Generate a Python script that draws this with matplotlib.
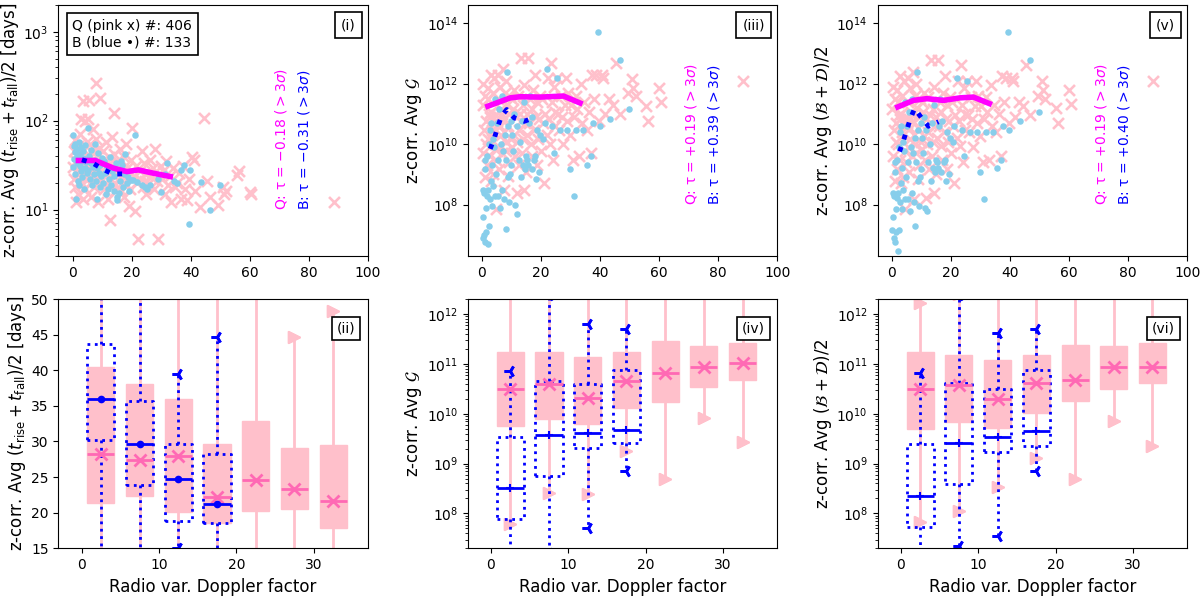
import numpy as np
import matplotlib
matplotlib.use("Agg")
import matplotlib.pyplot as plt
from matplotlib.ticker import NullLocator

# --- Q (pink x) sources: Doppler factor and the three z-corrected averages ---
q_dop = [0.2, 0.4, 0.5, 0.8, 1.0, 1.1, 1.3, 1.5, 1.7, 1.9, 2.0, 2.2, 2.4, 2.6, 2.7, 2.9, 3.1, 3.2, 3.4, 3.6,
         3.7, 3.9, 4.1, 4.3, 4.4, 4.6, 4.8, 4.9,
         5.1, 5.3, 5.5, 5.6, 5.8, 6.0, 6.2, 6.3, 6.5, 6.7, 6.9, 7.1, 7.3, 7.4, 7.6, 7.8, 8.0, 8.2, 8.3, 8.5,
         8.7, 8.9, 9.1, 9.3, 9.6, 9.8,
         10.1, 10.3, 10.6, 10.8, 11.0, 11.3, 11.5, 11.7, 12.0, 12.2, 12.4, 12.6, 12.8, 13.1, 13.3, 13.5, 13.8,
         14.0, 14.2, 14.4, 14.6, 14.9,
         15.1, 15.4, 15.6, 15.9, 16.2, 16.5, 16.8, 17.0, 17.3, 17.6, 17.9, 18.2, 18.5, 18.8, 19.1, 19.4, 19.6, 19.9,
         20.3, 20.7, 21.1, 21.5, 21.9, 22.3, 22.7, 23.0, 23.4, 23.8, 24.1, 24.4, 24.7, 24.9,
         25.3, 25.8, 26.2, 26.7, 27.1, 27.6, 28.0, 28.5, 28.9, 29.3, 29.8,
         30.2, 30.8, 31.3, 31.8, 32.3, 32.9, 33.4, 34.0, 34.6,
         35.4, 36.1, 36.8, 37.4, 38.0, 38.7, 39.5,
         40.5, 41.0, 41.6, 43.0, 44.4, 45.5, 46.6, 49.4,
         50.8, 51.3, 52.0, 55.6, 56.2, 60.0, 60.5, 88.4]
q_tau = [30, 45, 22, 60, 18, 35, 12, 26, 52, 40, 15, 28, 70, 21, 33, 105, 24, 19, 165, 48,
         13, 38, 27, 100, 17, 31, 58, 23,
         104, 25, 171, 38, 20, 55, 29, 14, 44, 32, 23, 80, 27, 18, 36, 62, 267, 22, 41, 30,
         12, 49, 26, 178, 34, 21,
         28, 45, 17, 36, 24, 58, 20, 31, 13, 39, 26, 7.6, 33, 22, 65, 19, 29,
         122, 42, 16, 27, 35,
         25, 18, 33, 21, 48, 16, 28, 20, 39, 14, 23, 55, 19, 30, 11, 26, 17, 36,
         83, 24, 9.5, 31, 20, 4.6, 27, 22, 45, 18, 33, 25, 21, 15,
         26, 20, 36, 23, 29, 17, 48, 21, 4.6, 25, 31,
         22, 27, 15, 35, 19, 24, 12, 29, 18,
         20, 26, 13, 31, 17, 12.8, 22,
         39, 36, 16, 10.8, 107, 21, 14, 11.2,
         18, 15, 16, 24.5, 27, 15.9, 15, 12.2]
q_g = [2e11, 5e9, 1e12, 3e10, 8e8, 4e11, 1e10, 6e10, 2e9, 7e11, 3e11, 1.5e10, 1e11, 8e10, 4e9, 2e12, 6e8, 1.2e11,
       3e10, 5e11, 1e9, 2.5e10, 1.5e12, 7e9, 5e10, 7e7, 9e10, 3e9,
       6e10, 2e12, 9e9, 3e11, 1.5e9, 8e11, 4e10, 2e10, 1.5e11, 5e9, 1e11, 3e12, 7e10, 3e8, 2.5e10, 5e11,
       1.2e10, 1.2e12, 6e9, 2e11, 9e8, 4e10, 1e11, 2.5e9, 3.5e11, 1.5e10,
       3e11, 8e9, 1.5e11, 2e10, 6e11, 4e9, 8e10, 2.5e8, 1.2e10, 4e11, 3e10, 2e9, 1e11, 6e10, 7e12, 5e9, 2e11,
       1.5e10, 9e11, 3e8, 5e10, 1.2e9,
       1e11, 2e10, 7e12, 5e10, 3e11, 1e10, 1.5e11, 4e9, 6e11, 3e10, 2e12, 8e10, 2e9, 2.5e11, 1.5e10, 7e10, 4e11, 6e9,
       3e11, 5e10, 5e8, 1e11, 2e10, 1.5e12, 7e10, 1e10, 5e12, 2.5e11, 3e9, 8e11, 1.2e11, 4e10,
       1.5e12, 1e11, 3e10, 4e11, 8e10, 1e10, 2e11, 1.5e12, 6e10, 5e11, 2e10,
       2e11, 3e9, 8e10, 4e11, 1.5e11, 4e9, 1e12, 5e10, 2.5e11,
       3e10, 1.2e11, 5e9, 2e12, 3e11, 2e12, 6e10,
       2e12, 1.5e12, 1e11, 3e11, 2e11, 5e12, 1e11, 5e11,
       1.4e12, 7e11, 4e11, 1.8e11, 6e10, 7e11, 2.5e11, 1.2e12]
q_bd = [1.5e11, 4e9, 8e11, 3e10, 6e8, 3e11, 1.2e10, 5e10, 1.5e9, 6e11, 2.5e11, 1e10, 9e10, 7e10, 3e9, 1.8e12, 5e8,
        1e11, 2.5e10, 4e11, 8e8, 2e10, 1.2e12, 6e9, 4e10, 7e7, 8e10, 2.5e9,
        5e10, 1.6e12, 8e9, 2.5e11, 1.2e9, 7e11, 3.5e10, 1.5e10, 1.2e11, 4e9, 9e10, 2.5e12, 6e10, 1.5e8, 2e10, 4e11,
        1e10, 1e12, 5e9, 1.6e11, 7e8, 3.5e10, 8e10, 2e9, 3e11, 1.2e10,
        2.5e11, 7e9, 1.2e11, 1.8e10, 5e11, 3e9, 7e10, 1.6e8, 1e10, 3.5e11, 2.5e10, 1.5e9, 9e10, 5e10, 6e12, 4e9,
        1.5e11, 1.2e10, 8e11, 2.5e8, 4e10, 1e9,
        8e10, 1.6e10, 6e12, 4e10, 2.5e11, 9e9, 1.2e11, 3e9, 5e11, 2.5e10, 1.8e12, 7e10, 1.5e9, 2e11, 1.2e10, 6e10,
        3.5e11, 5e9,
        2.5e11, 4e10, 5e8, 9e10, 1.6e10, 1.2e12, 6e10, 9e9, 4e12, 2e11, 2.5e9, 7e11, 1e11, 3e10,
        1.2e12, 9e10, 2.5e10, 3.5e11, 7e10, 8e9, 1.8e11, 1.2e12, 5e10, 4e11, 1.8e10,
        1.8e11, 2.5e9, 7e10, 3.5e11, 1.2e11, 3e9, 9e11, 4e10, 2e11,
        2.5e10, 1e11, 4e9, 1.8e12, 2.5e11, 1.6e12, 5e10,
        1.6e12, 1.2e12, 8e10, 2.5e11, 1.8e11, 4e12, 9e10, 4e11,
        1.2e12, 6e11, 3e11, 1.6e11, 5e10, 6e11, 2.2e11, 1.2e12]

# --- B (blue dot) sources ---
b_dop = [0.2, 0.3, 0.5, 0.6, 0.8, 0.9, 1.0, 1.2, 1.4, 1.5, 1.6, 1.8, 2.0, 2.1, 2.3, 2.5, 2.6, 2.8, 3.0, 3.2,
         3.3, 3.5, 3.7, 3.9, 4.1, 4.3, 4.5, 4.8,
         5.1, 5.4, 5.6, 5.9, 6.1, 6.4, 6.7, 6.9, 7.2, 7.5, 7.7, 8.0, 8.2, 8.4, 8.7, 8.9, 9.2, 9.4, 9.7, 9.9,
         10.2, 10.6, 11.0, 11.3, 11.7, 12.0, 12.4, 12.8, 13.1, 13.5, 13.9, 14.2, 14.6, 14.9,
         15.2, 15.6, 16.0, 16.4, 16.8, 17.1, 17.5, 17.9, 18.3, 18.7, 19.2, 19.7,
         20.6, 21.2, 22.0, 23.6, 24.4, 25.3, 26.3, 28.9, 29.8, 31.2, 32.0, 34.3, 35.5, 36.8, 37.6, 39.4,
         39.8, 43.4, 46.7, 49.9]
b_tau = [69, 30, 52, 37, 44, 25, 55, 13, 40, 33, 48, 21, 36, 19, 58, 31, 42, 27, 50, 35,
         23, 46, 38, 17, 29, 53, 34, 26,
         82, 28, 40, 22, 33, 47, 19, 30, 25, 55, 36, 21, 29, 13, 43, 26, 18, 32, 24, 38,
         20, 35, 26, 15, 30, 17, 22, 39, 19, 27, 16, 24, 33, 14,
         12.8, 15.2, 21, 34.7, 31.7, 18, 25, 42, 20, 23, 16, 21.6,
         21.6, 69, 20.6, 19, 18, 17, 19, 22, 15.8, 25, 33, 21, 19.8, 28, 31.6, 6.8,
         27.9, 20.6, 9.9, 18.9]
b_g = [8e6, 3e8, 4e7, 2.5e8, 1e7, 1.5e9, 6e6, 3e9, 1.2e7, 8e7, 2e8, 4e9, 3e8, 5e6, 1e10, 2e7, 3e10, 1.5e8, 6e8,
       5e10, 2e9, 9e7, 1.5e10, 4e8, 8e9, 2e8, 3e11, 1e9,
       5e10, 2e8, 3e9, 1.5e11, 8e7, 1e10, 3e8, 4e11, 6e9, 1.5e8, 2e10, 1.6e7, 3e9, 2.4e12, 8e8, 4e10, 1.2e8, 1e9,
       6e10, 2e9,
       2e10, 6e9, 1e11, 1e8, 4e10, 5e7, 3e9, 1.2e10, 8e8, 6e10, 2e9, 2.5e11, 1.5e9, 4e9,
       3e9, 2e9, 5e10, 4e11, 1.5e9, 8e10, 3e9, 4e9, 7e8, 3e10, 1.2e9, 2e10,
       1.5e10, 5e10, 3e12, 4e10, 5e9, 1.5e12, 3e10, 3e10, 1.5e9, 2e8, 3e10, 3e10, 2e9, 4e9, 5e10, 5e13,
       4e10, 7e10, 6e12, 1.5e11]
b_bd = [1.5e7, 2.5e8, 4e7, 2e8, 8e6, 1.2e9, 6e6, 2.5e9, 1.2e7, 7e7, 1.6e8, 3e9, 2.5e8, 3e6, 8e9, 1.5e7, 2.5e10,
        1.2e8, 5e8, 4e10, 1.6e9, 7e7, 1.2e10, 3e8, 6e9, 1.5e8, 2.5e11, 8e8,
        4e10, 1.5e8, 2.5e9, 1.2e11, 6e7, 8e9, 2.5e8, 3e11, 5e9, 1.2e8, 1.6e10, 2e7, 2.5e9, 2.4e12, 6e8, 3e10, 9e7,
        8e8, 5e10, 1.5e9,
        1.6e10, 5e9, 8e10, 8e7, 3e10, 6e7, 2.5e9, 1e10, 6e8, 5e10, 1.6e9, 2e11, 1.2e9, 3e9,
        2.5e9, 1.6e9, 4e10, 3e11, 1.2e9, 6e10, 2.5e9, 3e9, 6e8, 2.5e10, 1e9, 1.6e10,
        1.2e10, 4e10, 1.5e12, 3e10, 4e9, 1.2e12, 2.5e10, 2.5e10, 1.2e9, 1.5e8, 2.5e10, 2.5e10, 1.6e9, 3e9, 4e10,
        5e13, 3e10, 6e10, 6e12, 1.2e11]

# --- running medians shown in the top row ---
q_run_x_tau = [2.0, 7.7, 13.9, 18.4, 22.3, 27.4, 33.1]
q_run_tau = [35.6, 35.6, 29.2, 26.7, 27.9, 25.6, 23.5]
b_run_x_tau = [3.2, 6.9, 10.2, 13.7, 17.3]
b_run_tau = [36.3, 33.2, 28.5, 25.0, 25.2]
q_run_x_g = [2.0, 9.6, 13.0, 19.7, 27.6, 33.2]
q_run_g = [1.8e11, 3.4e11, 3.7e11, 3.6e11, 3.9e11, 2.3e11]
b_run_x_g = [2.8, 4.3, 5.4, 6.6, 8.4, 10.9, 14.3, 17.5]
b_run_g = [7e9, 1.7e10, 3.9e10, 8.4e10, 1.4e11, 7.4e10, 5.7e10, 7.4e10]
q_run_x_bd = [2.0, 7.3, 11.8, 17.5, 23.1, 27.6, 33.0]
q_run_bd = [1.7e11, 2.8e11, 3.2e11, 2.8e11, 3.4e11, 3.6e11, 2.2e11]
b_run_x_bd = [2.6, 3.9, 5.1, 6.2, 7.7, 9.9, 12.4, 15.8]
b_run_bd = [5.7e9, 1.3e10, 3e10, 6.8e10, 1.5e11, 7.7e10, 3.9e10, 5.5e10]

tau_labels = [("Q: τ = −0.18 ($>3\\sigma$)", "B: τ = −0.31 ($>3\\sigma$)"),
              ("Q: τ = +0.19 ($>3\\sigma$)", "B: τ = +0.39 ($>3\\sigma$)"),
              ("Q: τ = +0.19 ($>3\\sigma$)", "B: τ = +0.40 ($>3\\sigma$)")]

# --- binned box statistics (bins of 5 in Doppler factor) ---
q_pos = [2.5, 7.5, 12.5, 17.5, 22.5, 27.5, 32.5]
b_pos = [2.5, 7.5, 12.5, 17.5]
# columns: q1, median, q3, lower whisker, upper whisker
q_box_tau = [[21.3, 28.3, 40.5, 11, 270], [22.3, 27.4, 38.0, 12, 178], [20.1, 28.0, 36.0, 7.6, 122],
             [18.5, 22.2, 29.7, 11, 55], [20.3, 24.6, 32.9, 4.6, 83], [20.5, 23.3, 29.1, 4.6, 44.6],
             [17.8, 21.6, 29.5, 12, 48.3]]
b_box_tau = [[30.2, 35.9, 43.7, 13, 82], [23.9, 29.6, 35.7, 13, 82.6], [18.9, 24.7, 29.7, 15.1, 39.5],
             [18.6, 21.2, 28.3, 12.8, 44.6]]
q_box_g = [[5.6e9, 3.1e10, 1.7e11, 6.1e7, 4e12], [7.7e9, 3.9e10, 1.7e11, 2.6e8, 3e12],
           [6.1e9, 2.1e10, 1.4e11, 2.5e8, 7e12], [1.3e10, 4.6e10, 1.7e11, 1.8e9, 7e12],
           [1.7e10, 6.6e10, 2.9e11, 5e8, 5e12], [3.4e10, 8.6e10, 2.3e11, 8.3e9, 3e12],
           [4.7e10, 1.05e11, 2.6e11, 2.7e9, 2.6e12]]
b_box_g = [[7.9e7, 3.2e8, 3.4e9, 4e6, 7.1e10], [5.7e8, 3.8e9, 4.6e10, 1.6e7, 2.4e12],
           [2.1e9, 4.2e9, 3.9e10, 5.1e7, 6.3e11], [2.6e9, 4.8e9, 7.7e10, 7.1e8, 5.1e11]]
q_box_bd = [[5e9, 3.1e10, 1.7e11, 6.9e7, 1.7e12], [6.8e9, 3.7e10, 1.5e11, 1.1e8, 2.5e12],
            [5.2e9, 2e10, 1.2e11, 3.4e8, 6e12], [1.05e10, 4.1e10, 1.5e11, 1.3e9, 6e12],
            [1.8e10, 4.8e10, 2.4e11, 4.9e8, 4e12], [3.1e10, 8.6e10, 2.3e11, 7.1e9, 3e12],
            [4.2e10, 8.7e10, 2.6e11, 2.3e9, 2.6e12]]
b_box_bd = [[5.4e7, 2.2e8, 2.5e9, 3e6, 6.6e10], [3.9e8, 2.6e9, 4.1e10, 2.25e7, 2.4e12],
            [1.7e9, 3.4e9, 3.2e10, 3.6e7, 4.2e11], [2.3e9, 4.5e9, 7.7e10, 7.1e8, 4.9e11]]

PINK = "pink"
HOT = "hotpink"
SKY = "skyblue"


def scatter_panel(ax, qy, by, qrx, qry, brx, bry, labels, tag, ylabel, txt_y):
    ax.scatter(q_dop, qy, marker="x", s=62, color=PINK, linewidths=1.9, zorder=2)
    ax.scatter(b_dop, by, marker="o", s=22, color=SKY, linewidths=0, zorder=3)
    ax.plot(qrx, qry, color="magenta", lw=4, zorder=4)
    ax.plot(brx, bry, color="blue", lw=3.5, ls=":", zorder=5)
    ax.set_yscale("log")
    ax.set_xlim(-4.8, 100)
    ax.set_ylabel(ylabel, fontsize=12, labelpad=2)
    ax.text(0.72, txt_y, labels[0], color="magenta", rotation=90, ha="center", va="center",
            fontsize=10, transform=ax.transAxes)
    ax.text(0.795, txt_y, labels[1], color="blue", rotation=90, ha="center", va="center",
            fontsize=10, transform=ax.transAxes)
    ax.text(0.96, 0.948, tag, ha="right", va="top", fontsize=10, transform=ax.transAxes,
            bbox=dict(boxstyle="square,pad=0.45", fc="white", ec="black", lw=1.2))


def stats_of(rows):
    out = []
    for r in rows:
        out.append(dict(q1=r[0], med=r[1], q3=r[2], whislo=r[3], whishi=r[4], mean=r[1], fliers=[]))
    return out


def box_panel(ax, qrows, brows, tag, ylabel, bmark, bsize, logy):
    ax.bxp(stats_of(qrows), positions=q_pos, widths=3.5, patch_artist=True,
           showmeans=True, showfliers=False, manage_ticks=False, capwidths=0,
           boxprops=dict(facecolor=PINK, edgecolor=PINK, lw=1),
           whiskerprops=dict(color=PINK, lw=2),
           capprops=dict(color=PINK, marker=">", markersize=9, ls="none"),
           medianprops=dict(color=HOT, lw=2),
           meanprops=dict(marker="x", markeredgecolor=HOT, markersize=9, markeredgewidth=2))
    ax.bxp(stats_of(brows), positions=b_pos, widths=3.5, patch_artist=False,
           showmeans=True, showfliers=False, manage_ticks=False, capwidths=0,
           boxprops=dict(color="blue", lw=2, ls=":"),
           whiskerprops=dict(color="blue", lw=2, ls=":"),
           capprops=dict(color="blue", marker="3", markersize=9, markeredgewidth=2, ls="none"),
           medianprops=dict(color="blue", lw=2),
           meanprops=dict(marker=bmark, color="blue", markerfacecolor="blue", markeredgecolor="blue",
                          markersize=bsize, markeredgewidth=1.5))
    if logy:
        ax.set_yscale("log")
    ax.set_xlim(-3, 37)
    ax.set_xlabel("Radio var. Doppler factor", fontsize=12)
    ax.set_ylabel(ylabel, fontsize=12, labelpad=2)
    ax.text(0.96, 0.91, tag, ha="right", va="top", fontsize=10, transform=ax.transAxes,
            bbox=dict(boxstyle="square,pad=0.35", fc="white", ec="black", lw=1.2))


fig = plt.figure(figsize=(12, 5.96), dpi=100)
lefts = [0.0486, 0.3898, 0.7314]
w = 0.2580
top_axes = [fig.add_axes([l, 0.5705, w, 0.4211]) for l in lefts]
bot_axes = [fig.add_axes([l, 0.0800, w, 0.4183]) for l in lefts]

ylab_tau = r"z-corr. Avg $(t_{\rm rise}+t_{\rm fall})/2$ [days]"
ylab_g = r"z-corr. Avg $\mathcal{G}$"
ylab_bd = r"z-corr. Avg $(\mathcal{B}+\mathcal{D})/2$"

scatter_panel(top_axes[0], q_tau, b_tau, q_run_x_tau, q_run_tau, b_run_x_tau, b_run_tau,
              tau_labels[0], "(i)", ylab_tau, 0.465)
top_axes[0].set_ylim(3, 2000)
top_axes[0].text(0.045, 0.945, "Q (pink x) #: 406\nB (blue •) #: 133", ha="left", va="top",
                 fontsize=10, transform=top_axes[0].transAxes,
                 bbox=dict(boxstyle="square,pad=0.4", fc="white", ec="black", lw=1.2))
scatter_panel(top_axes[1], q_g, b_g, q_run_x_g, q_run_g, b_run_x_g, b_run_g,
              tau_labels[1], "(iii)", ylab_g, 0.485)
scatter_panel(top_axes[2], q_bd, b_bd, q_run_x_bd, q_run_bd, b_run_x_bd, b_run_bd,
              tau_labels[2], "(v)", ylab_bd, 0.485)
for ax in top_axes[1:]:
    ax.set_ylim(2e6, 4e14)
    ax.set_yticks([1e8, 1e10, 1e12, 1e14])
    ax.yaxis.set_minor_locator(NullLocator())

box_panel(bot_axes[0], q_box_tau, b_box_tau, "(ii)", ylab_tau, "o", 4, False)
bot_axes[0].set_ylim(15, 50)
box_panel(bot_axes[1], q_box_g, b_box_g, "(iv)", ylab_g, "+", 6, True)
bot_axes[1].set_ylim(2e7, 2e12)
box_panel(bot_axes[2], q_box_bd, b_box_bd, "(vi)", ylab_bd, "+", 6, True)
bot_axes[2].set_ylim(2e7, 2e12)

fig.savefig("out.png", dpi=100)
